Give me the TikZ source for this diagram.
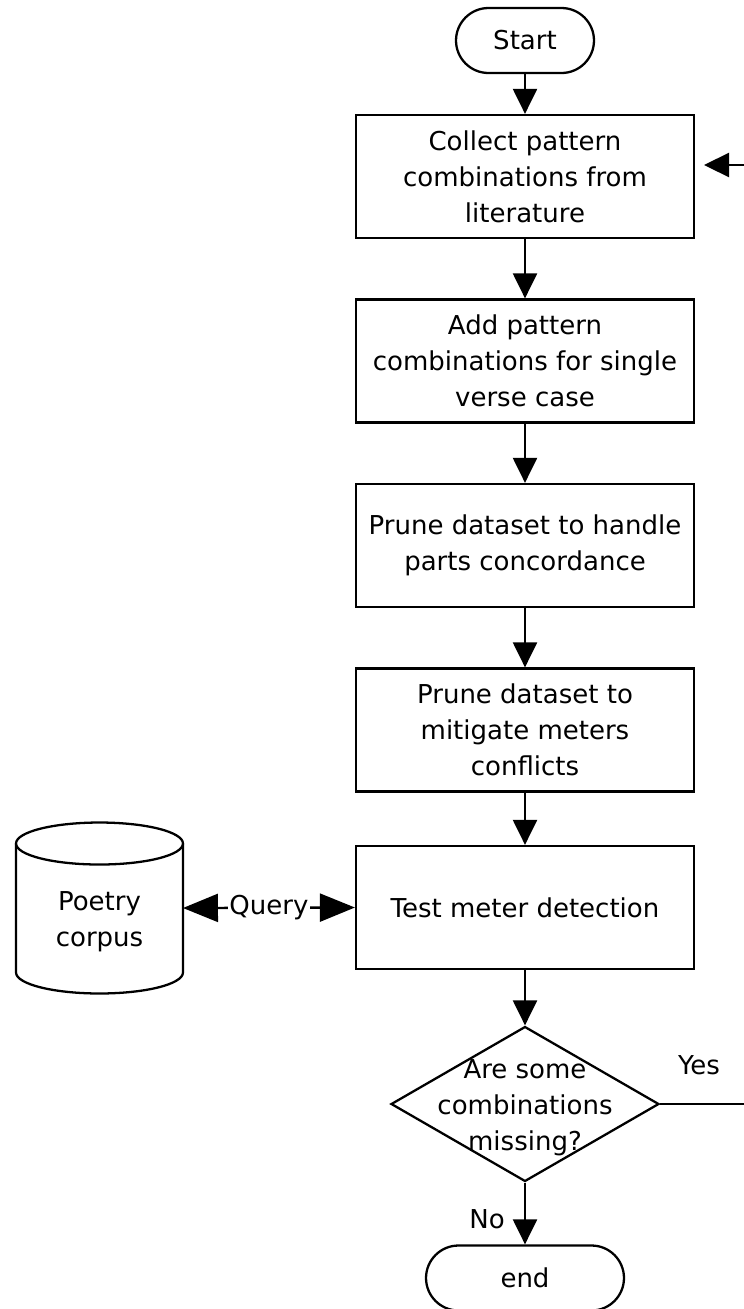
\documentclass[tikz,border=0pt]{standalone}
\usepackage{fontspec}
\setmainfont{DejaVu Sans}
\usetikzlibrary{arrows.meta,shapes.geometric}

\begin{document}
\begin{tikzpicture}[x=0.02cm,y=-0.02cm,font=\fontsize{14.8}{20.5}\selectfont,
	line width=1.3pt,>={Triangle[length=0.5cm,width=0.48cm]},
	stepbox/.style={draw,rectangle,minimum width=6.76cm,minimum height=2.46cm,inner sep=0pt,align=center},
	terminal/.style={draw,rectangle,rounded corners=0.65cm,minimum height=1.3cm,inner sep=0pt}]
	\useasboundingbox (0,0) rectangle (744,1309);
	\fill[white] (0,0) rectangle (744,1309);
	\clip (0,0) rectangle (744,1309);

	% draw main column
	\node (start) at (525,40.5) [terminal,minimum width=2.76cm] {Start};
	\node (collect) at (525,176.5) [stepbox] {Collect pattern\\combinations from\\literature};
	\node (addcomb) at (525,361) [stepbox] {Add pattern\\combinations for single\\verse case};
	\node (prunepart) at (525,545.5) [stepbox] {Prune dataset to handle\\parts concordance};
	\node (prunemeter) at (525,730) [stepbox] {Prune dataset to\\mitigate meters\\conflicts};
	\node (test) at (525,907.5) [stepbox] {Test meter detection};

	% draw decision
	\node (missing) at (525,1104) [draw,diamond,minimum width=5.36cm,minimum height=3.1cm,inner sep=0pt] {};
	\node (missingtext) at (525,1108) [align=center] {Are some\\combinations\\missing?};
	\node (stop) at (525,1278) [terminal,minimum width=3.96cm] {end};

	% draw poetry corpus cylinder
	\node (corpus) at (99.5,908) [minimum width=3.34cm,minimum height=3.42cm,inner sep=0pt,outer sep=0pt] {};
	\draw[fill=white] ([yshift=-0.42cm]corpus.north west) -- ([yshift=0.42cm]corpus.south west)
		arc[start angle=180,end angle=360,x radius=1.67cm,y radius=0.42cm]
		-- ([yshift=-0.42cm]corpus.north east);
	\draw ([yshift=-0.42cm]corpus.north) ellipse [x radius=1.67cm,y radius=0.42cm];
	\node (corpustext) at (99.5,922) [align=center] {Poetry\\corpus};

	% draw arrows down the column
	\draw[->] (start) -- (collect);
	\draw[->] (collect) -- (addcomb);
	\draw[->] (addcomb) -- (prunepart);
	\draw[->] (prunepart) -- (prunemeter);
	\draw[->] (prunemeter) -- (test);
	\draw[->] (test) -- (missing);
	\draw[->] (missing) -- (stop);

	% draw query arrow
	\draw[{Triangle[length=0.7cm,width=0.56cm]}-{Triangle[length=0.7cm,width=0.56cm]}] (corpus.east) -- node[fill=white,inner sep=1pt] (query) {Query} (test.west);

	% draw line back to the top
	\coordinate (back) at (704,165);
	\draw[->] (missing.east) -- ++(125,0) |- (back);

	% labels
	\node (yes) at (699,1065) {Yes};
	\node (no) at (487,1219) {No};
\end{tikzpicture}
\end{document}
